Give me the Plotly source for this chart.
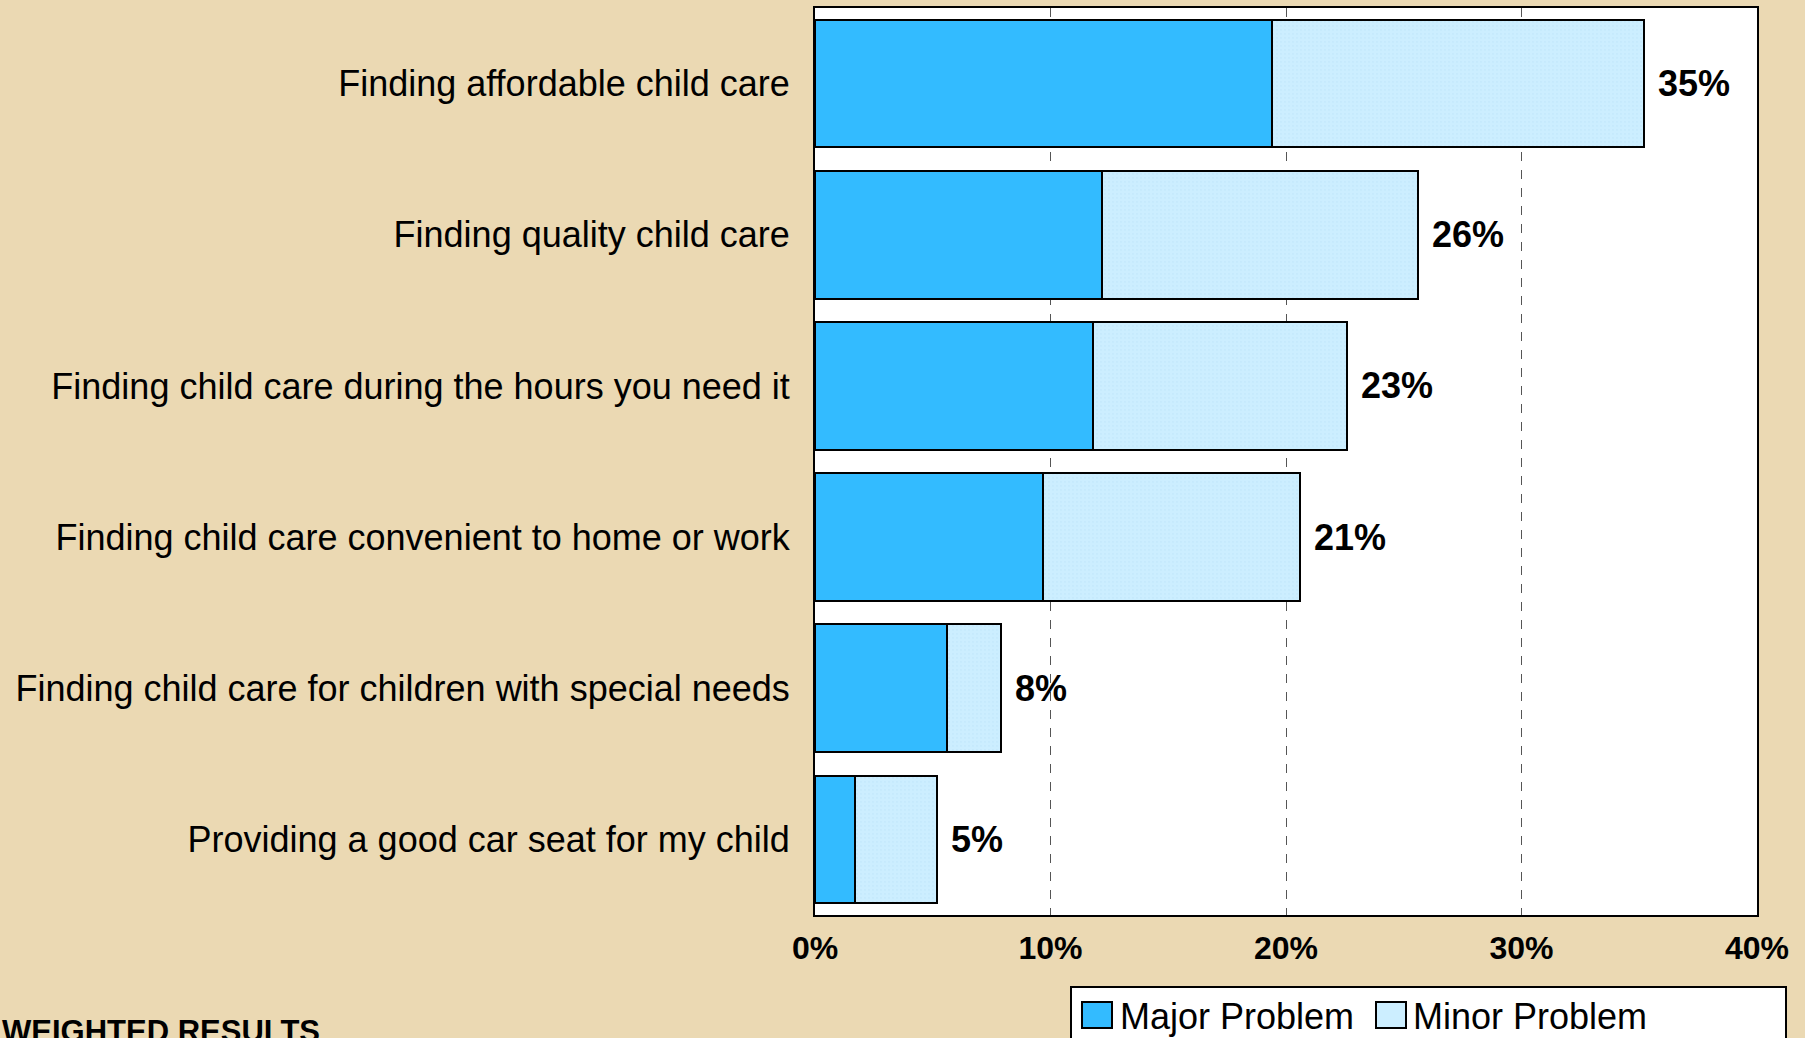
import plotly.graph_objects as go

# --- data (percent of respondents) ---
categories = [
    "Finding affordable child care",
    "Finding quality child care",
    "Finding child care during the hours you need it",
    "Finding child care convenient to home or work",
    "Finding child care for children with special needs",
    "Providing a good car seat for my child",
]
major = [19.4, 12.2, 11.8, 9.7, 5.6, 1.7]
minor = [15.8, 13.4, 10.8, 10.9, 2.3, 3.5]
totals = [35, 26, 23, 21, 8, 5]
x_ticks = [0, 10, 20, 30, 40]
x_tick_labels = ["0%", "10%", "20%", "30%", "40%"]
series_names = ["Major Problem", "Minor Problem"]

FONT = "Liberation Sans, Arial, sans-serif"
BG = "#EBD9B3"
MAJOR_COLOR = "#33BBFF"
MINOR_COLOR = "#CCEEFF"

# page / plot area in pixels
W, H = 1805, 1038
L, R, T, B = 815, 48, 8, 123
plot_w = W - L - R
plot_h = H - T - B


def px_x(px):
    return (px - L) / plot_w


def px_y(py):
    return (T + plot_h - py) / plot_h


fig = go.Figure()

fig.add_trace(go.Bar(
    y=categories, x=major, orientation="h", name=series_names[0],
    marker=dict(color=MAJOR_COLOR, line=dict(color="black", width=2)),
    hoverinfo="x+y",
))
fig.add_trace(go.Bar(
    y=categories, x=minor, orientation="h", name=series_names[1],
    marker=dict(color=MINOR_COLOR, line=dict(color="black", width=2),
                pattern=dict(shape=".", fgcolor="#BFE6FA", bgcolor=MINOR_COLOR,
                             size=4, solidity=0.25)),
    hoverinfo="x+y",
))

# total labels to the right of each bar
for cat, mj, mn, tot in zip(categories, major, minor, totals):
    fig.add_annotation(
        x=mj + mn, y=cat, xref="x", yref="y", text=f"<b>{tot}%</b>",
        showarrow=False, xanchor="left", xshift=12,
        font=dict(family=FONT, size=36, color="black"),
    )

# legend box, running off the bottom of the page like the original
fig.add_shape(
    type="rect", xref="paper", yref="paper",
    x0=px_x(1071), x1=px_x(1786), y0=px_y(1060), y1=px_y(987),
    fillcolor="white", line=dict(color="black", width=2), layer="below",
)
# legend swatches + labels
swatch_x = [1082, 1376]
text_x = [1118, 1411]
for name, col, sx, tx in zip(series_names, [MAJOR_COLOR, MINOR_COLOR], swatch_x, text_x):
    fig.add_shape(
        type="rect", xref="paper", yref="paper",
        x0=px_x(sx), x1=px_x(sx + 30), y0=px_y(1028), y1=px_y(1002),
        fillcolor=col, line=dict(color="black", width=2),
    )
    fig.add_annotation(
        x=px_x(tx), y=px_y(1016), xref="paper", yref="paper", text=name,
        showarrow=False, xanchor="left", yanchor="middle",
        font=dict(family=FONT, size=36, color="black"),
    )

fig.add_annotation(
    x=px_x(0), y=px_y(1012), xref="paper", yref="paper",
    text="<b>WEIGHTED RESULTS</b>", showarrow=False,
    xanchor="left", yanchor="top",
    font=dict(family=FONT, size=31, color="black"),
)

fig.update_layout(
    width=W, height=H,
    barmode="stack", bargap=0.155,
    paper_bgcolor=BG, plot_bgcolor="white",
    margin=dict(l=L, r=R, t=T, b=B, autoexpand=False),
    font=dict(family=FONT, color="black"),
    showlegend=False,
    xaxis=dict(
        range=[0, 40], tickvals=x_ticks, ticktext=[f"<b>{t}</b>" for t in x_tick_labels],
        tickfont=dict(family=FONT, size=32, color="black"),
        showgrid=True, gridcolor="#555555", griddash="dash", gridwidth=1,
        zeroline=False, showline=True, linecolor="black", linewidth=2, mirror=True,
        ticks="", ticklabelstandoff=4, fixedrange=True,
    ),
    yaxis=dict(
        autorange="reversed", showgrid=False, showline=True, linecolor="black",
        linewidth=2, mirror=True, ticks="",
        tickfont=dict(family=FONT, size=36, color="black"),
        ticklabelstandoff=16, fixedrange=True,
    ),
)

fig.write_html(
    "out.html",
    config={"displayModeBar": False},
    post_script="document.body.style.margin='0';document.body.style.overflow='hidden';",
)
